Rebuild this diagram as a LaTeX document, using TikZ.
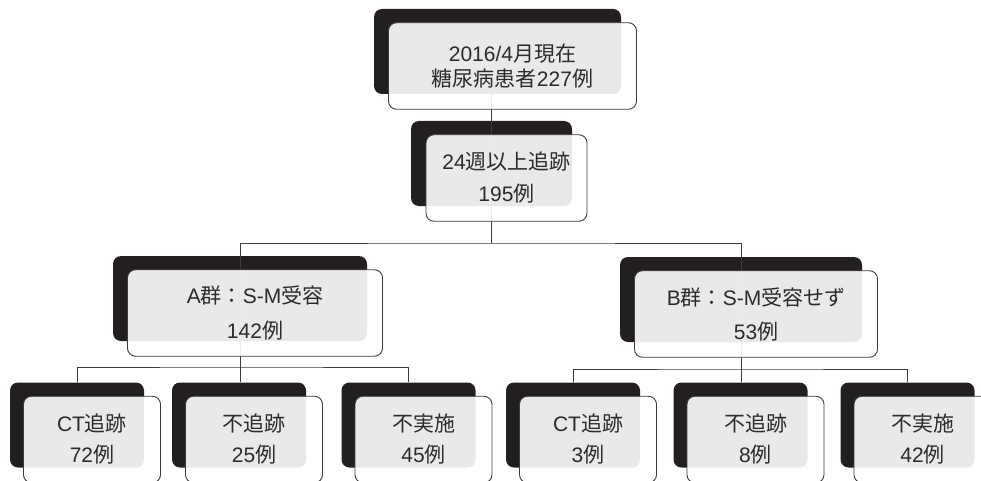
\documentclass[tikz,border=0pt]{standalone}
\usepackage{fontspec}
\setmainfont{Liberation Sans}
\newfontfamily\cjk{Noto Sans CJK JP}
\definecolor{backc}{HTML}{231F20}
\definecolor{linec}{HTML}{3C3C3C}
\definecolor{textc}{HTML}{2B2B2B}
\begin{document}
\begin{tikzpicture}[x=1pt,y=-1pt,
  back/.style={draw=none, fill=backc, rounded corners=8pt, minimum height=85pt, inner sep=0pt},
  front/.style={draw=linec, line width=0.9pt, fill=white, fill opacity=0.9, draw opacity=1, text opacity=1,
    rounded corners=8pt, minimum height=86.5pt, inner sep=0pt, align=center, text=textc,
    font=\fontsize{21}{25}\selectfont},
  conn/.style={draw=linec, line width=0.9pt}]
\useasboundingbox (0,0) rectangle (981,481);
% back panels
\node[back, minimum width=247pt] (b0) at (497.5,51.5) {};
\node[back, minimum width=161pt] (b1) at (491.5,163.5) {};
\node[back, minimum width=254pt] (bA) at (240,298.5) {};
\node[back, minimum width=242pt] (bB) at (741,299.5) {};
\node[back, minimum width=134pt] (bA1) at (77,425) {};
\node[back, minimum width=134pt] (bA2) at (239,425) {};
\node[back, minimum width=134pt] (bA3) at (408.5,425) {};
\node[back, minimum width=134pt] (bB1) at (573,425) {};
\node[back, minimum width=134pt] (bB2) at (740.5,425) {};
\node[back, minimum width=134pt] (bB3) at (907.5,425) {};
% connectors
\coordinate (j0) at (491.5,243);
\coordinate (jA) at (240,367);
\coordinate (jB) at (741,369);
\draw[conn] (b1.center |- b0.south) -- (j0);
\draw[conn] (bA.north) |- (j0) -| (bB.north);
\draw[conn] (bA.north) -- (jA);
\draw[conn] (bB.north) -- (jB);
\draw[conn] (bA1.north) |- (jA) -| (bA3.north);
\draw[conn] (jA) -- (jA |- bA2.north);
\draw[conn] (bB1.north) |- (jB) -| (bB3.north);
\draw[conn] (jB) -- (jB |- bB2.north);
% front panels
\node[front, minimum width=248pt] (f0) at ([shift={(15,14.5)}]b0.center)
  {2016/4{\cjk 月現在}\\{\cjk 糖尿病患者}227{\cjk 例}};
\node[front, minimum width=161pt] (f1) at ([shift={(15,14.5)}]b1.center)
  {24{\cjk 週以上追跡}\\[7pt]195{\cjk 例}};
\node[front, minimum width=255pt] (fA) at ([shift={(15,14.5)}]bA.center)
  {A{\cjk 群：}S-M{\cjk 受容}\\[10pt]142{\cjk 例}};
\node[front, minimum width=243pt] (fB) at ([shift={(15,14.5)}]bB.center)
  {B{\cjk 群：}S-M{\cjk 受容せず}\\[9pt]53{\cjk 例}};
\node[front, minimum width=137pt] (fA1) at ([shift={(15,14.5)}]bA1.center)
  {CT{\cjk 追跡}\\[6pt]72{\cjk 例}};
\node[front, minimum width=137pt] (fA2) at ([shift={(15,14.5)}]bA2.center)
  {{\cjk 不追跡}\\[6pt]25{\cjk 例}};
\node[front, minimum width=137pt] (fA3) at ([shift={(15,14.5)}]bA3.center)
  {{\cjk 不実施}\\[6pt]45{\cjk 例}};
\node[front, minimum width=137pt] (fB1) at ([shift={(15,14.5)}]bB1.center)
  {CT{\cjk 追跡}\\[6pt]3{\cjk 例}};
\node[front, minimum width=137pt] (fB2) at ([shift={(15,14.5)}]bB2.center)
  {{\cjk 不追跡}\\[6pt]8{\cjk 例}};
\node[front, minimum width=137pt] (fB3) at ([shift={(15,14.5)}]bB3.center)
  {{\cjk 不実施}\\[6pt]42{\cjk 例}};
\end{tikzpicture}
\end{document}
